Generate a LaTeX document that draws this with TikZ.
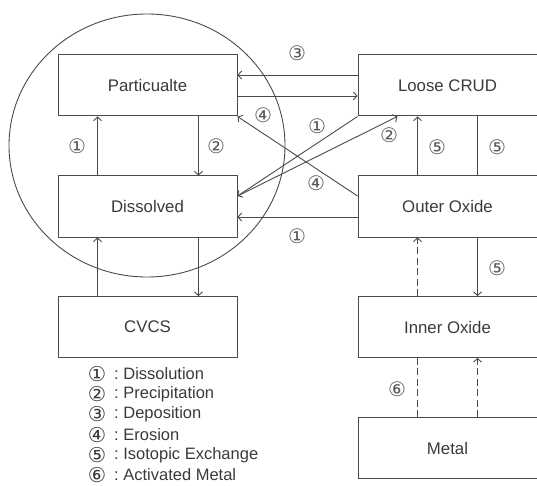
\documentclass[tikz,border=0pt]{standalone}
\usepackage{fontspec}
\setmainfont{Liberation Sans}
\newfontfamily\circfont{DejaVu Sans}
\usetikzlibrary{arrows.meta}
\definecolor{linec}{HTML}{4A4A4A}
\definecolor{textc}{HTML}{3A3A3A}
\definecolor{numc}{HTML}{5A5A5A}
\begin{document}
\begin{tikzpicture}[x=1pt,y=-1pt,
  box/.style={draw=linec,line width=1pt,minimum width=179pt,minimum height=61pt,inner sep=0pt,
    font=\fontsize{16.8pt}{18pt}\selectfont,text=textc},
  conn/.style={draw=linec,line width=0.9pt},
  arr/.style={conn,-{Straight Barb[length=3.5pt,width=8pt]}},
  dsh/.style={dash pattern=on 7pt off 3.5pt},
  num/.style={font=\circfont\fontsize{20pt}{22pt}\selectfont,text=numc,inner sep=0pt},
  lnum/.style={font=\circfont\fontsize{20.5pt}{21pt}\selectfont,text=textc,inner sep=0pt},
  ltext/.style={font=\fontsize{16.5pt}{19pt}\selectfont,text=textc,inner sep=0pt,anchor=west}]
\useasboundingbox (0,0) rectangle (537,486);
% circle
\draw[linec,line width=0.9pt] (147,145.5) ellipse [x radius=138, y radius=131.5];
% boxes
\node[box] (P) at (147.5,85.5) {Particualte};
\node[box] (D) at (147.5,206.5) {Dissolved};
\node[box] (C) at (147.5,327) {CVCS};
\node[box] (L) at (447.5,85.5) {Loose CRUD};
\node[box] (O) at (447.5,206.5) {Outer Oxide};
\node[box] (I) at (447.5,327) {Inner Oxide};
\node[box] (M) at (447.5,448) {Metal};
% left column
\draw[arr] ([xshift=40pt]D.north west) -- ([xshift=40pt]P.south west);
\draw[arr] ([xshift=141pt]P.south west) -- ([xshift=141pt]D.north west);
\draw[arr] ([xshift=40pt]C.north west) -- ([xshift=40pt]D.south west);
\draw[arr] ([xshift=141pt]D.south west) -- ([xshift=141pt]C.north west);
% horizontal
\draw[arr] ([yshift=10.5pt]L.west) -- ([yshift=10.5pt]P.east);
\draw[arr] ([yshift=-10.5pt]P.east) -- ([yshift=-10.5pt]L.west);
\draw[arr] ([yshift=-10.5pt]O.west) -- ([yshift=-10.5pt]D.east);
% diagonals
\draw[arr] ([yshift=10.5pt]O.west) -- (P.south east);
\draw[arr] (L.south west) -- ([yshift=10.5pt]D.east);
\draw[arr] ([yshift=10.5pt]D.east) -- ([xshift=40pt]L.south west);
% right column
\draw[arr] ([xshift=60pt]O.north west) -- ([xshift=60pt]L.south west);
\draw[conn] ([xshift=120pt]L.south west) -- ([xshift=120pt]O.north west);
\draw[arr] ([xshift=120pt]O.south west) -- ([xshift=120pt]I.north west);
\draw[arr,dsh] ([xshift=60pt]I.north west) -- ([xshift=60pt]O.south west);
\draw[conn,dsh] ([xshift=60pt]M.north west) -- ([xshift=60pt]I.south west);
\draw[arr,dsh] ([xshift=120pt]M.north west) -- ([xshift=120pt]I.south west);
% labels
\node[num] (n1) at (77,146) {①};
\node[num] (n2) at (216,146) {②};
\node[num] (n3) at (297,53) {③};
\node[num] (n4) at (263,115) {④};
\node[num] (n5) at (317,126) {①};
\node[num] (n6) at (389,135) {②};
\node[num] (n7) at (316,183) {④};
\node[num] (n8) at (297,236) {①};
\node[num] (n9) at (437,147) {⑤};
\node[num] (n10) at (497,147) {⑤};
\node[num] (n11) at (497,268) {⑤};
\node[num] (n12) at (397,389) {⑥};
% legend
\foreach \y/\n/\t [count=\i] in {374/①/Dissolution,394.2/②/Precipitation,414.4/③/Deposition,434.6/④/Erosion,454.8/⑤/Isotopic Exchange,475/⑥/Activated Metal}{
  \node[lnum] (ln\i) at (97,\y) {\n};
  \node[ltext] (lt\i) at (114,\y) {:\ \t};
}
\end{tikzpicture}
\end{document}
